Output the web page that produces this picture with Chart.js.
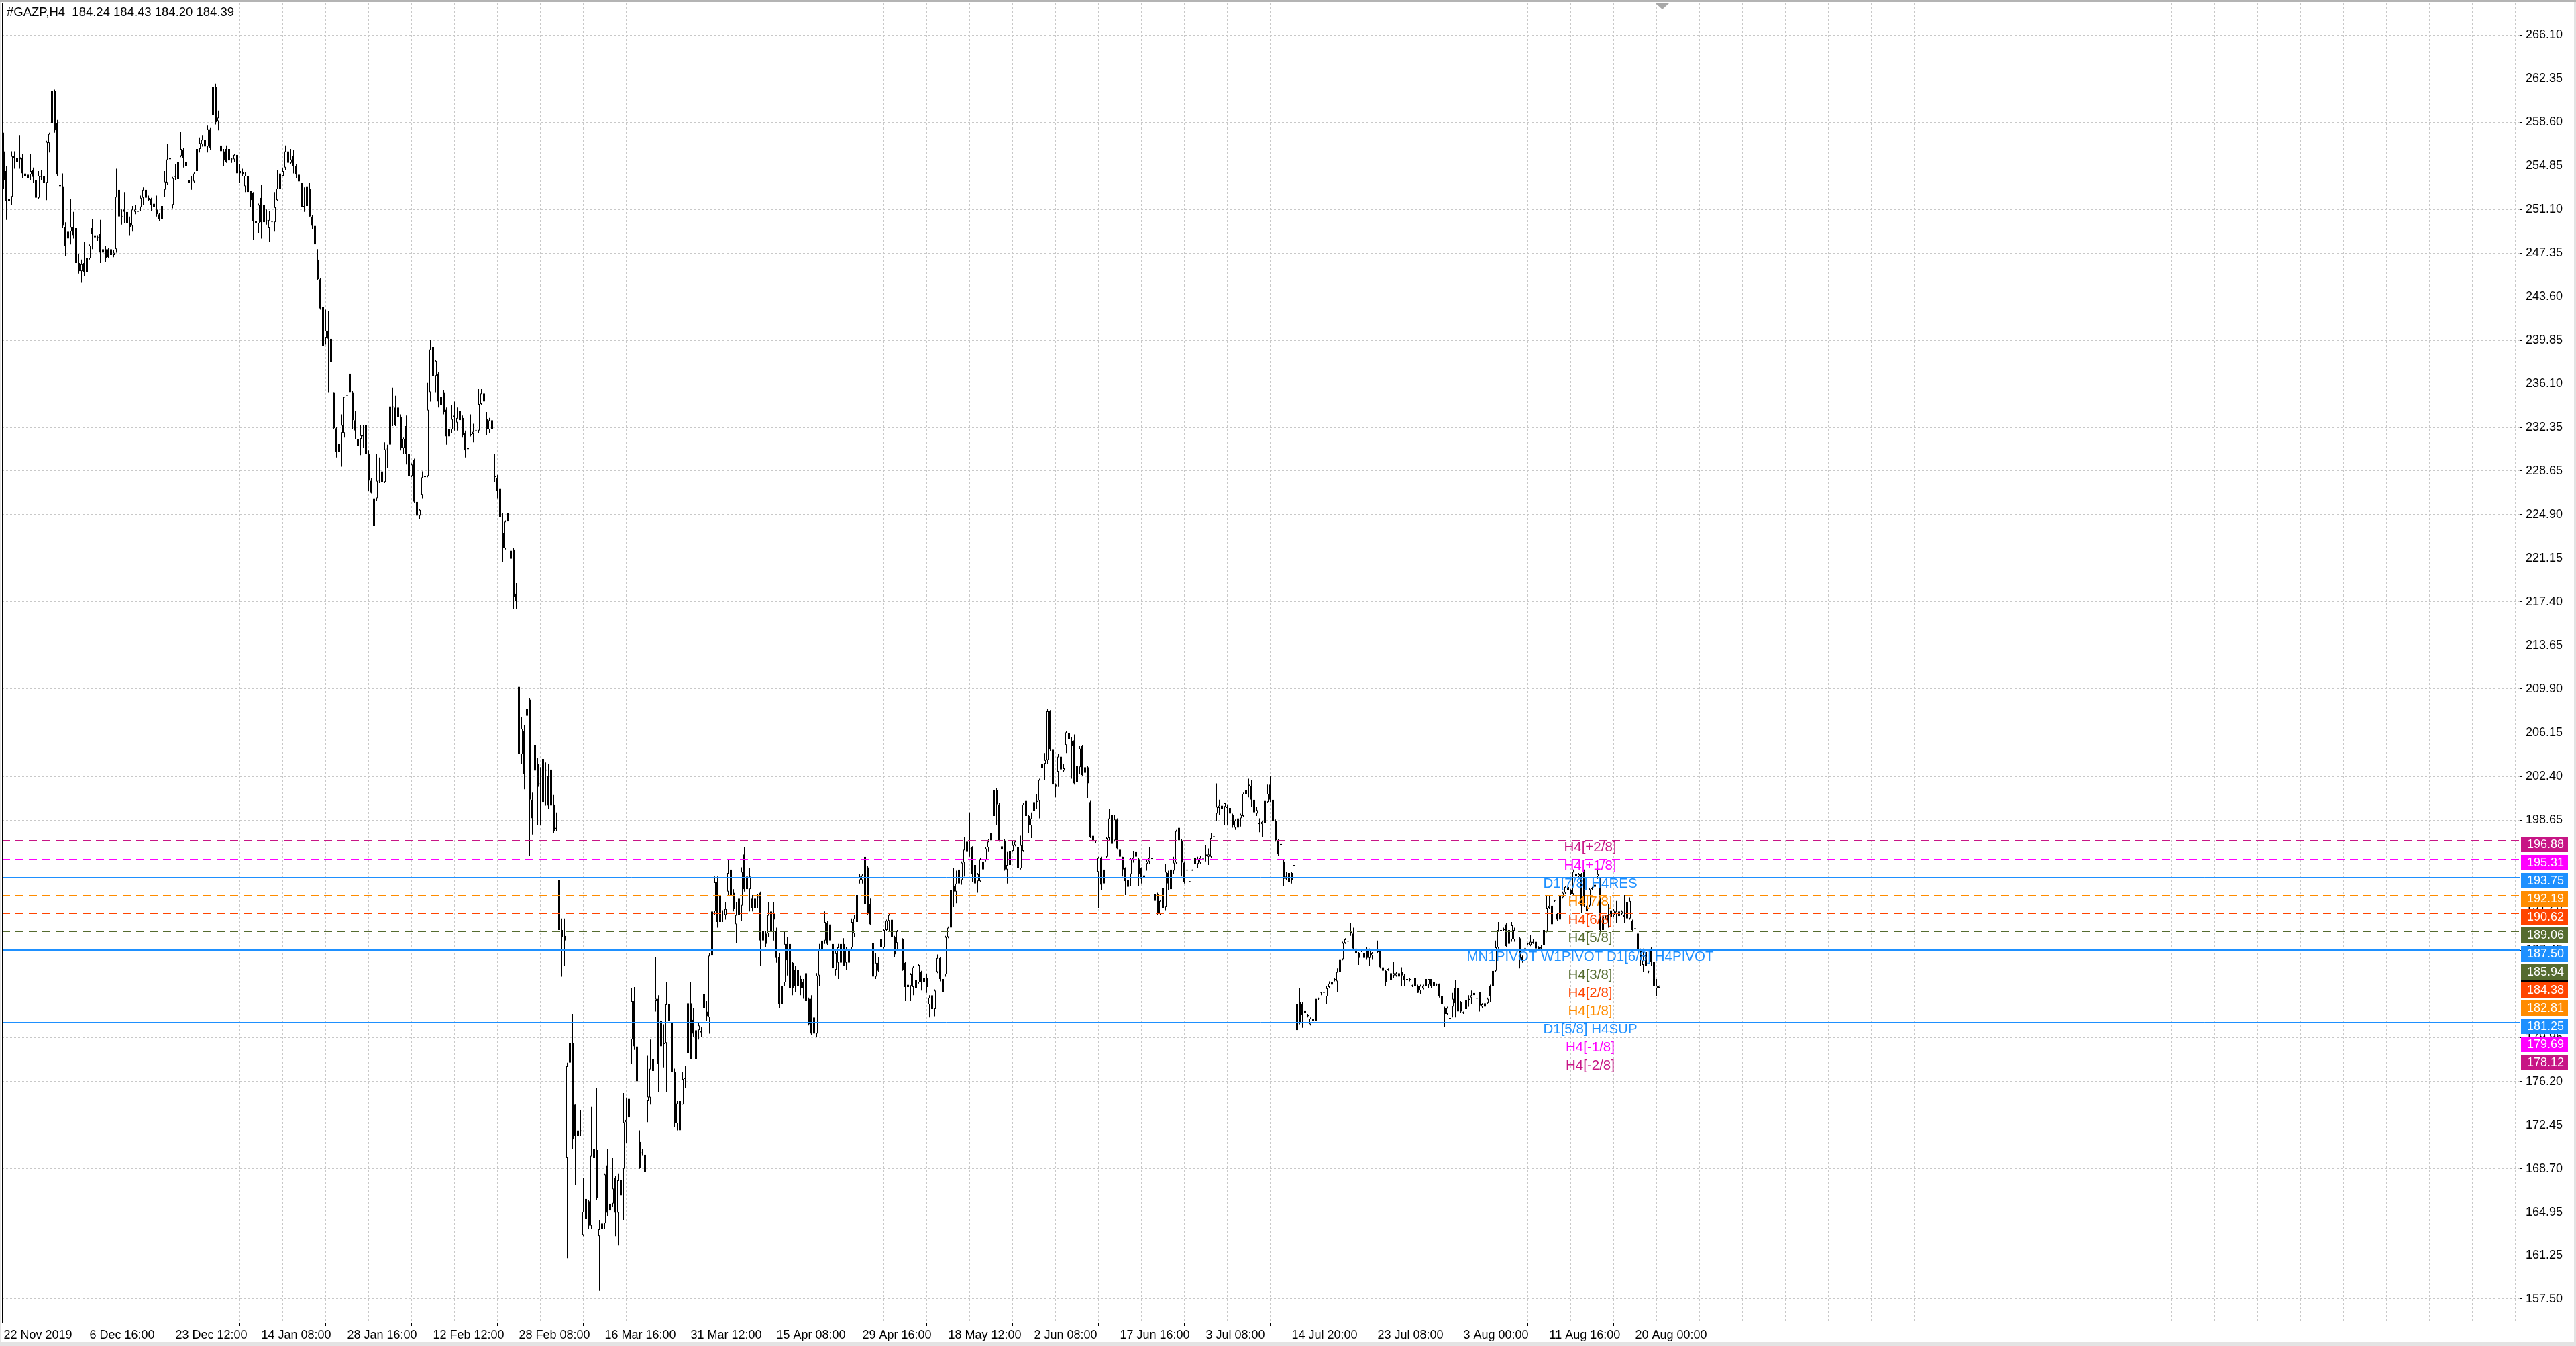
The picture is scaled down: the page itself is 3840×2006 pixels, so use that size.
<!DOCTYPE html>
<html>
<head>
<meta charset="utf-8">
<title>#GAZP,H4</title>
<script src="https://cdn.jsdelivr.net/npm/chart.js@4.4.1/dist/chart.umd.min.js"></script>
<style>
html,body{margin:0;padding:0;background:#ffffff;overflow:hidden}
canvas{display:block}
</style>
</head>
<body>
<canvas id="c" width="3840" height="2006" style="width:3840px;height:2006px"></canvas>
<script>
// ---------------- DATA ----------------
const symbolTitle = '#GAZP,H4  184.24 184.43 184.20 184.39';

const xTickLabels = ['22 Nov 2019','6 Dec 16:00','23 Dec 12:00','14 Jan 08:00','28 Jan 16:00','12 Feb 12:00',
  '28 Feb 08:00','16 Mar 16:00','31 Mar 12:00','15 Apr 08:00','29 Apr 16:00','18 May 12:00','2 Jun 08:00',
  '17 Jun 16:00','3 Jul 08:00','14 Jul 20:00','23 Jul 08:00','3 Aug 00:00','11 Aug 16:00','20 Aug 00:00'];

const yTickValues = [266.10,262.35,258.60,254.85,251.10,247.35,243.60,239.85,236.10,232.35,228.65,224.90,
  221.15,217.40,213.65,209.90,206.15,202.40,198.65,194.90,191.20,187.45,183.70,179.95,176.20,172.45,168.70,
  164.95,161.25,157.50];

const opens = [
256.1,254.4,251.8,252.2,255.7,255.5,255.6,255.5,254.2,253.8,
254.1,254.5,253.6,252.1,253.9,254.0,253.4,256.8,258.5,261.3,
258.5,253.2,253.1,249.6,248.6,249.2,249.6,249.5,246.5,245.8,
246.5,245.7,246.9,249.5,248.9,248.7,249.0,247.4,247.7,247.7,
247.7,247.2,247.7,252.8,250.5,251.1,250.9,249.9,249.7,250.9,
251.0,251.3,252.1,252.1,252.1,252.0,251.6,251.1,250.7,250.3,
252.8,253.4,255.4,251.5,253.9,253.7,255.7,256.2,255.2,253.4,
253.6,253.5,254.4,256.3,256.7,257.1,256.5,258.0,259.2,261.6,
258.7,256.6,256.1,256.3,256.3,255.4,255.4,255.8,254.4,254.3,
253.1,254.0,252.7,252.5,250.1,249.9,252.1,251.5,250.1,249.5,
250.0,250.0,251.9,252.9,254.0,254.7,256.1,255.1,255.7,254.8,
254.1,253.4,251.3,251.4,252.9,250.5,249.7,246.8,245.1,242.7,
240.1,240.7,240.0,235.4,232.3,230.3,231.9,231.9,235.1,237.0,
235.4,233.0,230.8,231.4,231.6,232.6,230.1,227.8,223.9,226.3,
227.8,228.6,227.7,230.5,230.9,234.2,234.1,234.1,233.3,230.6,
232.5,230.1,228.2,229.6,226.0,224.8,226.6,228.1,228.2,235.4,
239.3,236.8,237.0,235.0,235.4,233.9,231.6,232.2,233.3,232.8,
233.8,233.2,231.9,230.5,231.7,231.8,232.1,232.1,234.4,235.3,
233.1,232.2,233.0,228.2,228.0,227.1,223.3,222.0,224.3,221.1,
221.9,218.1,210.1,204.3,206.3,207.6,209.0,200.4,205.1,203.5,
201.8,203.9,203.0,202.4,203.0,200.0,197.9,193.5,189.2,188.7,
169.6,177.8,179.5,174.2,171.5,171.9,163.0,164.4,165.9,163.8,
169.6,170.3,162.9,163.5,164.0,169.0,165.1,165.7,167.9,164.9,
167.7,168.7,172.7,173.1,179.8,183.1,179.2,171.0,170.1,169.9,
174.5,174.8,177.1,183.1,183.3,181.4,179.5,179.5,182.8,181.2,
177.0,172.6,172.0,174.2,176.4,178.6,182.9,181.5,178.1,180.6,
180.5,183.7,182.2,181.7,187.0,190.8,193.3,192.2,190.3,190.5,
192.5,194.4,192.4,189.7,190.5,191.3,195.7,193.8,192.7,191.9,
191.1,192.0,192.4,188.3,188.9,188.9,189.1,190.7,189.1,186.9,
182.8,184.7,188.0,188.0,186.4,185.8,184.4,185.0,184.7,183.1,
183.3,183.3,181.7,180.3,185.3,187.5,188.3,189.8,188.3,188.0,
185.8,186.4,188.0,188.0,186.4,186.4,187.7,188.9,189.9,193.5,
193.5,195.5,194.6,191.4,188.1,185.2,186.4,187.7,187.7,189.2,
190.0,190.1,188.6,188.1,188.4,188.4,186.4,184.3,184.4,184.3,
184.9,184.7,185.6,184.7,185.1,182.8,183.6,182.4,185.6,186.8,
185.0,185.4,188.6,189.4,193.0,192.5,193.2,193.5,195.0,195.9,
196.2,196.3,194.8,193.4,193.4,195.1,195.2,196.3,196.9,199.0,
201.2,200.0,196.4,196.9,194.4,194.8,196.0,196.5,196.3,194.5,
196.0,199.0,199.0,198.2,199.4,200.2,200.3,203.1,203.5,203.8,
208.0,204.7,201.7,202.8,204.1,202.9,205.1,206.1,205.4,205.5,
201.9,203.2,205.0,202.7,203.2,200.2,197.3,196.8,194.2,195.4,
193.2,195.5,197.1,199.1,196.9,198.7,196.1,195.5,194.5,192.9,
194.0,195.2,195.5,195.3,194.5,193.9,194.9,195.1,195.3,192.3,
192.3,190.6,191.1,191.2,194.1,192.7,194.3,195.0,198.0,196.9,
195.0,194.4,193.4,194.4,194.9,194.9,195.0,195.3,195.6,195.5,
195.5,197.2,199.2,199.7,199.6,199.8,199.8,199.7,199.1,198.0,
198.0,198.8,199.0,200.9,201.7,201.6,200.4,199.2,198.3,198.3,
198.4,200.2,201.7,200.4,198.6,196.9,196.6,195.1,193.6,193.3,
194.1,194.8,180.6,183.0,182.8,182.1,181.9,181.1,181.4,181.4,
183.3,183.8,183.8,183.5,184.3,184.5,184.9,184.8,185.6,186.7,
188.1,188.2,189.1,188.9,187.6,187.2,187.4,187.2,187.6,186.8,
187.0,187.5,187.5,187.4,186.0,185.7,185.8,184.9,185.3,185.3,
185.2,185.6,185.3,185.0,184.9,184.4,185.1,184.4,184.0,184.2,
185.0,184.5,185.0,184.4,184.5,184.6,183.5,182.5,182.0,181.6,
182.6,184.2,182.2,183.0,182.1,182.4,183.2,183.4,183.6,183.3,
183.9,182.6,182.6,182.9,184.4,184.4,185.7,187.7,189.1,189.2,
189.7,189.2,188.4,188.4,188.4,188.5,186.9,187.6,188.0,187.9,
188.1,188.2,187.7,187.6,187.9,189.1,191.1,191.3,191.7,190.6,
190.1,192.0,192.4,192.6,192.6,192.3,193.8,193.8,194.0,194.3,
190.8,191.3,192.7,192.9,193.8,193.6,189.2,190.3,190.5,190.3,
190.5,190.6,190.8,190.6,190.5,191.6,190.2,190.0,189.3,188.9,
187.5,186.2,186.1,185.6,187.6,186.5,184.2,184.24];

const highs = [
257.7,254.8,253.2,256.1,256.1,255.8,257.5,255.9,254.5,254.4,
255.9,254.7,254.0,254.4,254.5,255.0,257.0,257.7,263.4,261.4,
258.8,254.0,254.2,250.0,249.9,252.0,250.9,249.7,247.3,246.8,
248.3,248.0,248.1,250.3,249.3,248.9,250.2,247.8,248.0,247.8,
247.8,247.6,254.6,254.7,251.1,252.6,251.3,250.5,251.4,251.5,
251.8,252.3,253.0,252.9,252.3,252.1,251.8,252.3,250.8,251.5,
254.4,256.7,256.7,253.9,255.0,255.4,257.8,256.4,255.5,253.9,
254.0,254.3,256.5,257.3,257.5,257.5,258.3,258.1,262.0,261.9,
259.6,257.7,256.3,256.6,257.4,255.5,255.9,256.8,255.0,254.6,
254.3,254.1,252.7,252.6,250.5,251.6,253.2,251.7,251.1,251.0,
250.1,252.6,254.5,254.5,254.7,256.6,256.7,256.3,256.2,255.0,
254.2,253.4,253.0,253.1,253.4,250.6,249.8,247.7,245.2,243.3,
242.5,242.4,240.1,235.4,232.4,231.5,233.5,235.0,237.5,237.4,
235.5,233.8,231.8,232.6,232.6,233.8,230.4,228.0,226.4,230.1,
229.8,229.0,231.1,230.9,234.3,235.8,235.1,236.0,233.5,231.5,
233.4,230.3,229.3,229.7,226.1,225.4,228.6,229.8,236.2,239.9,
239.6,238.2,237.1,236.0,235.6,234.1,232.8,234.3,234.6,234.1,
234.3,233.4,232.1,230.9,233.5,232.7,233.0,235.7,235.7,235.6,
233.7,233.2,233.1,230.1,228.3,227.2,225.0,224.4,225.5,223.3,
222.0,219.0,212.0,207.5,206.8,212.0,209.1,201.0,205.2,204.0,
203.2,204.6,203.6,203.5,203.2,200.8,199.3,194.3,190.2,190.2,
177.8,185.8,182.0,174.2,172.6,173.7,167.9,169.3,166.0,174.0,
171.5,175.6,164.3,164.6,168.3,170.4,167.1,169.6,168.1,168.3,
170.4,175.2,174.8,174.9,184.2,184.3,179.5,172.0,170.4,170.1,
178.4,179.8,179.9,186.9,183.6,181.4,181.1,184.7,184.7,181.4,
177.3,174.5,174.8,177.0,177.5,183.1,184.7,182.5,181.1,181.3,
180.9,185.3,183.1,187.2,191.0,193.8,193.8,192.4,190.9,191.6,
195.2,194.8,192.7,191.6,192.2,194.6,196.3,194.2,194.5,192.2,
192.2,192.3,192.5,189.4,189.1,191.6,191.3,191.6,189.4,187.2,
185.8,189.1,188.6,188.3,186.5,186.1,186.1,185.3,185.0,185.8,
183.4,183.6,182.0,185.5,188.0,188.9,190.8,190.0,191.6,188.3,
187.5,188.0,188.3,188.5,187.7,187.7,190.2,190.5,192.4,194.0,
194.0,196.3,194.7,191.9,188.2,187.2,186.9,189.1,189.3,190.1,
190.7,191.2,188.7,189.2,188.5,188.5,186.5,184.8,185.5,186.1,
185.0,186.3,185.7,185.2,185.4,183.6,184.1,184.1,187.1,186.9,
185.1,188.7,189.5,192.7,194.5,194.3,194.5,195.1,197.2,197.3,
199.3,196.4,194.9,194.1,195.4,195.2,196.3,197.0,197.6,202.4,
201.4,200.1,196.9,197.0,195.9,196.9,196.9,196.9,196.4,197.3,
200.1,202.4,199.1,199.3,200.8,200.9,202.2,204.7,204.4,208.2,
208.1,204.8,201.8,204.3,204.2,203.5,206.3,206.6,205.8,206.0,
203.4,205.0,205.1,204.2,203.3,200.3,198.0,196.9,195.5,195.5,
194.5,197.2,199.6,199.2,199.1,198.8,196.2,195.5,194.6,193.8,
195.4,196.0,196.1,195.4,194.6,194.0,195.2,196.3,196.1,192.5,
192.4,191.8,192.9,194.9,194.3,194.8,195.5,197.8,198.6,197.0,
195.1,194.4,193.4,194.4,195.8,195.5,195.6,195.4,196.5,196.2,
197.5,197.4,201.8,200.4,200.0,200.1,200.0,199.8,199.2,198.7,
198.9,199.2,201.0,201.7,202.2,202.1,200.5,199.8,198.8,198.6,
200.4,201.7,202.4,200.5,198.7,197.0,196.6,195.2,194.2,194.9,
194.2,194.8,184.4,184.2,183.0,182.5,182.0,181.7,181.8,183.4,
183.4,183.9,184.1,184.4,184.8,185.0,185.1,185.9,186.8,188.2,
188.5,188.3,189.8,189.4,187.7,187.3,187.5,188.6,187.7,187.6,
187.3,187.6,188.3,187.5,186.1,185.8,185.9,186.0,186.5,185.6,
185.6,186.0,185.4,185.0,185.1,184.5,185.2,184.5,184.5,184.5,
185.0,185.0,185.0,184.8,184.6,184.6,183.6,182.6,182.6,181.7,
183.8,184.9,184.8,183.1,182.2,183.4,183.6,184.0,183.9,183.4,
183.9,182.9,183.0,183.4,184.5,185.9,188.3,189.9,190.0,189.4,
189.8,189.9,189.9,189.4,188.5,188.6,187.0,187.7,188.1,188.8,
188.4,188.3,187.8,187.9,189.4,192.2,192.2,191.4,191.8,190.7,
192.2,192.5,193.0,193.1,192.7,194.4,194.5,194.1,194.1,194.4,
191.5,192.8,192.9,193.3,194.5,193.7,190.5,190.5,191.4,191.3,
191.0,191.7,190.9,190.9,192.2,191.8,192.0,190.1,189.4,189.0,
187.6,187.6,187.7,185.7,187.7,187.6,185.0,184.43];

const lows = [
252.9,250.2,250.9,251.5,254.6,254.6,254.6,253.8,252.1,252.4,
253.6,253.4,251.3,252.0,253.6,253.1,251.9,256.0,258.1,257.7,
254.0,250.6,249.5,247.1,246.4,248.1,248.6,246.4,245.6,244.8,
245.4,245.6,246.8,247.7,248.0,248.4,246.5,246.8,246.6,246.9,
247.0,247.0,247.4,249.3,249.8,249.9,248.9,248.9,249.2,250.7,
250.7,251.0,251.5,251.9,251.8,251.0,251.0,250.5,250.1,249.4,
252.2,253.2,255.2,251.2,253.6,253.6,255.6,254.7,254.7,252.5,
252.8,253.4,254.3,256.0,256.5,254.8,256.0,256.2,258.5,258.4,
257.9,256.1,254.8,255.1,254.8,255.1,255.2,251.9,253.4,254.0,
252.6,251.9,251.3,248.5,248.6,249.1,248.6,249.7,249.8,248.3,
249.9,249.2,251.8,252.6,254.0,254.5,254.1,255.0,254.2,253.8,
253.1,251.3,250.9,251.3,250.5,249.4,248.1,245.0,242.5,239.0,
239.5,235.4,237.4,232.2,229.8,229.0,229.0,231.5,233.5,231.7,
232.2,231.4,229.5,230.0,230.6,229.4,226.9,226.7,223.8,226.1,
227.6,226.8,227.6,228.9,228.9,232.5,232.5,232.9,230.4,230.1,
229.2,227.2,228.1,225.9,224.7,224.5,226.3,228.0,228.1,234.6,
236.0,235.4,234.1,233.8,233.5,230.9,231.3,231.9,232.1,232.1,
232.1,231.5,229.8,230.2,231.6,231.1,231.7,231.9,234.3,234.3,
231.7,231.9,232.1,227.7,226.3,224.6,220.8,221.9,223.6,220.8,
216.8,216.8,201.3,203.5,201.3,197.4,195.6,197.4,200.2,198.2,
198.2,198.5,199.9,199.6,199.6,197.5,197.7,188.6,185.2,186.1,
161.0,170.4,170.4,167.3,169.0,171.5,162.9,161.3,163.5,163.5,
169.0,166.0,158.2,161.6,163.5,164.6,164.9,165.4,162.9,162.1,
166.2,164.3,170.9,170.9,177.7,178.9,176.0,168.7,169.8,168.3,
172.7,174.2,177.0,182.2,175.3,177.3,177.4,175.3,181.1,176.4,
172.3,172.0,170.5,174.2,175.6,178.4,178.1,180.0,177.5,179.8,
180.0,182.2,181.4,180.3,185.8,190.5,189.4,189.7,189.9,190.1,
192.2,191.1,190.8,188.1,190.0,190.0,192.5,190.0,190.8,190.8,
190.8,191.1,186.1,188.0,187.7,188.6,188.9,188.3,186.4,182.5,
182.6,184.4,185.3,183.9,183.6,183.9,184.2,183.6,183.3,182.9,
181.0,180.2,179.2,180.0,184.4,186.4,188.0,187.9,188.0,185.8,
185.3,185.0,186.3,186.1,185.8,185.8,187.5,188.6,189.7,193.2,
193.2,190.6,190.5,189.6,184.5,185.0,185.6,187.6,187.6,189.1,
189.1,188.0,186.9,187.5,188.3,185.7,183.1,183.3,183.1,183.6,
183.3,184.6,184.0,184.3,183.8,181.7,181.7,181.8,185.5,184.8,
183.8,185.2,188.5,189.3,191.2,191.5,192.8,193.1,193.8,195.5,
195.5,193.3,191.5,192.4,193.3,194.2,195.1,195.9,196.5,198.6,
198.2,196.8,195.9,194.3,193.2,194.7,195.9,196.4,193.6,194.4,
195.9,198.9,197.5,197.1,199.3,199.6,198.8,202.3,202.1,203.5,
204.6,201.6,200.6,201.5,201.6,202.8,204.4,205.5,202.2,201.7,
201.7,202.6,202.4,202.0,200.5,197.1,195.9,196.7,191.1,192.6,
192.9,195.4,196.9,196.5,196.8,196.1,195.3,193.8,192.2,191.8,
193.0,195.0,195.1,193.0,193.2,192.6,194.3,194.9,194.3,191.0,
190.5,190.5,191.0,190.9,192.6,192.6,194.0,194.9,196.1,193.8,
193.2,194.3,193.3,194.3,194.6,194.5,194.9,195.1,195.1,194.8,
195.4,197.0,198.6,199.1,199.1,198.2,198.2,198.6,198.0,197.8,
197.5,198.1,198.9,200.8,200.6,199.8,198.4,199.0,197.6,197.2,
198.3,200.1,200.2,198.5,196.8,195.6,196.5,193.0,193.5,192.5,
193.2,194.7,179.8,181.1,180.8,182.0,181.7,181.0,181.3,181.3,
183.2,183.6,183.5,182.8,184.2,184.4,184.8,183.9,185.5,186.6,
188.0,188.1,188.7,187.5,186.3,186.2,187.3,186.6,186.7,186.1,
186.7,187.4,187.2,185.9,185.6,184.4,185.7,184.2,185.1,185.2,
184.4,184.4,184.4,184.8,184.8,184.3,184.2,183.8,183.7,184.1,
183.4,184.2,184.2,184.2,184.4,183.4,182.6,180.9,181.9,181.5,
181.7,181.7,181.7,182.1,182.0,181.8,182.6,182.8,183.4,183.2,
182.2,182.5,182.5,182.8,183.0,184.3,185.6,187.6,189.0,189.1,
187.7,187.8,188.2,188.2,188.3,185.9,186.4,187.5,187.9,187.8,
188.0,187.5,187.4,187.4,187.8,189.0,191.0,189.6,191.6,190.0,
190.0,191.9,192.3,192.5,192.2,192.2,193.7,193.7,190.7,191.2,
190.7,191.2,192.6,192.8,193.6,189.1,189.1,190.2,189.4,190.2,
190.3,189.8,190.3,190.5,189.8,190.1,190.1,189.1,189.2,187.4,
186.1,185.6,186.0,185.5,186.1,183.5,183.5,184.20];

const closes = [
253.6,251.8,252.0,255.7,255.5,255.2,255.4,254.2,254.0,254.1,
254.4,253.9,252.1,254.0,254.0,253.4,256.9,257.6,261.3,257.9,
254.1,253.1,249.7,248.0,249.2,249.6,248.9,246.5,245.8,246.4,
245.7,246.9,248.0,249.0,248.7,248.7,247.4,247.7,246.9,247.0,
247.2,247.4,252.2,250.5,250.5,250.9,249.9,249.6,251.1,251.1,
250.9,252.1,252.8,252.8,251.9,251.5,251.3,250.7,250.3,251.4,
253.5,255.4,255.5,253.8,253.9,255.2,256.3,255.5,254.8,253.6,
253.6,254.2,256.3,256.8,257.1,256.5,258.0,256.4,261.6,258.6,
259.0,256.1,255.3,255.2,255.3,255.4,255.8,254.2,254.2,254.1,
254.0,252.6,251.9,250.1,249.9,251.5,250.0,250.0,250.1,250.2,
250.0,251.3,252.9,254.2,254.4,256.1,255.1,255.4,254.8,254.1,
253.5,251.3,251.4,253.1,250.5,249.7,248.1,245.1,242.6,239.4,
240.7,240.0,238.0,232.3,230.3,231.0,232.6,235.0,235.1,235.4,
233.0,232.1,231.4,231.7,231.7,230.1,227.8,226.8,226.3,227.8,
227.8,227.7,230.5,230.5,234.2,234.1,232.6,233.3,230.6,231.4,
230.1,228.2,229.2,226.0,224.8,225.3,228.1,228.2,233.9,239.1,
236.8,238.1,234.6,234.3,233.7,231.6,232.2,233.1,233.4,233.2,
233.0,231.7,230.4,230.6,231.8,232.0,232.1,234.4,235.3,234.6,
232.2,233.0,232.2,228.1,226.9,224.7,222.0,224.3,225.0,221.8,
217.8,217.5,204.3,206.5,202.6,208.2,200.4,198.8,202.9,201.5,
201.7,200.2,202.9,199.9,199.9,197.7,198.0,189.2,188.6,188.3,
177.5,179.5,171.2,171.5,172.0,172.0,165.0,166.1,163.8,169.8,
170.4,166.2,163.5,164.0,168.2,164.9,165.7,167.0,164.9,167.7,
166.4,172.7,172.9,174.7,183.1,179.2,176.2,168.8,170.0,168.4,
174.9,177.3,178.1,183.3,177.7,179.2,179.4,182.8,181.4,177.0,
172.6,174.3,174.5,176.4,176.5,182.9,178.1,180.3,180.6,181.0,
180.4,182.5,181.8,187.0,190.8,193.3,189.9,189.9,190.3,191.0,
194.1,192.2,191.0,190.5,191.9,194.2,192.7,192.7,193.8,191.1,
191.9,192.0,188.3,189.1,188.0,190.5,190.8,190.1,186.8,182.8,
184.4,188.0,186.6,184.2,184.2,184.4,185.8,184.2,184.2,185.5,
181.1,180.3,180.3,185.3,187.5,188.3,189.9,188.0,189.7,185.9,
187.2,187.7,186.4,186.1,187.5,187.5,189.9,190.2,192.2,193.8,
193.9,191.4,190.6,189.7,185.2,186.4,185.7,188.4,189.2,190.0,
190.5,188.6,187.1,189.1,188.4,185.8,184.3,184.5,185.4,186.0,
184.2,186.2,184.7,185.1,184.3,183.4,182.4,184.0,186.8,185.0,
183.9,188.6,189.4,192.6,192.5,193.2,194.4,195.0,196.1,196.8,
196.1,194.0,193.2,194.0,195.3,194.4,196.2,196.8,197.5,201.2,
200.0,196.9,196.1,194.4,194.8,196.0,196.5,196.8,194.5,196.5,
200.0,200.3,198.2,198.8,200.2,200.3,202.1,203.5,203.8,208.0,
204.7,201.7,201.5,204.1,203.0,203.1,206.2,205.6,205.0,201.8,
203.3,204.8,202.5,203.2,201.8,197.2,196.8,196.8,195.4,193.1,
194.4,197.1,198.8,196.6,198.7,196.2,195.5,194.4,193.4,193.5,
195.3,195.4,195.9,194.0,193.6,193.7,195.1,195.4,195.4,191.7,
190.6,191.7,192.8,194.2,193.2,194.4,195.0,197.7,196.9,195.0,
193.3,194.3,193.3,194.3,195.4,195.3,195.4,195.3,195.7,195.7,
197.1,197.2,199.8,199.9,199.9,200.1,199.7,199.2,198.2,198.6,
198.8,199.1,200.9,201.2,201.6,200.4,199.3,199.5,198.4,198.5,
200.3,200.9,200.4,198.6,196.9,195.7,196.5,193.6,193.8,194.1,
193.5,194.7,182.8,181.3,181.9,182.3,181.8,181.6,181.6,183.3,
183.3,183.8,183.8,184.2,184.6,184.7,185.0,185.6,186.7,188.1,
188.4,188.2,188.9,187.6,187.2,186.8,187.4,186.8,186.8,187.5,
187.2,187.5,187.3,186.0,185.7,184.7,185.8,185.5,185.5,185.5,
185.5,185.3,184.9,184.9,185.0,184.4,184.4,183.8,184.4,184.4,
184.4,185.0,184.4,184.7,184.5,183.5,182.8,182.0,182.5,181.6,
183.3,182.9,184.2,182.2,182.1,183.2,183.3,183.6,183.8,183.3,
182.7,182.8,182.9,183.3,183.5,185.7,187.7,189.2,189.2,189.2,
187.8,188.0,189.6,189.2,188.4,186.6,186.6,187.6,188.0,188.2,
188.2,187.6,187.5,187.7,189.2,191.1,191.3,189.7,191.7,190.1,
192.1,192.4,192.9,192.9,192.3,194.2,194.0,194.0,191.3,191.3,
191.3,192.7,192.8,193.1,194.0,189.2,190.4,190.4,189.9,190.9,
190.9,190.8,190.4,190.8,190.3,190.2,191.7,189.2,189.3,187.5,
186.6,186.6,187.3,185.6,186.5,184.4,184.4,184.39];

const levelValues = [196.88,195.31,193.75,192.19,190.62,189.06,187.50,185.94,184.38,182.81,181.25,179.69,178.12];
const levelNames = ['H4[+2/8]','H4[+1/8]','D1[7/8] H4RES','H4[7/8]','H4[6/8]','H4[5/8]',
  'MN1PIVOT W1PIVOT D1[6/8] H4PIVOT','H4[3/8]','H4[2/8]','H4[1/8]','D1[5/8] H4SUP','H4[-1/8]','H4[-2/8]'];
const levelColors = ['#C71585','#FF00FF','#1E90FF','#FF8C00','#FF4500','#556B2F','#1E90FF','#556B2F',
  '#FF4500','#FF8C00','#1E90FF','#FF00FF','#C71585'];
const levelDashed = [true,true,false,true,true,true,false,true,true,true,false,true,true];
const levelWidths = [1,1,1,1,1,1,2,1,1,1,1,1,1];
const bidPrice = 184.39;

// ---------------- LAYOUT / STYLE ----------------
const FONT = '"Liberation Sans", Arial, sans-serif';
const X_MIN = -0.625, X_MAX = 937.625;
const Y_MIN = 155.424, Y_MAX = 268.867;
const LABEL_ANCHOR_BAR = 591.25;
const GRID_STEP_BARS = 16, LABEL_STEP_BARS = 32;

const n = Math.min(opens.length, highs.length, lows.length, closes.length);
const bodies = [], wicks = [];
for (let i = 0; i < n; i++) {
  bodies.push({x: i, y: [opens[i], closes[i]]});
  wicks.push({x: i, y: [lows[i], highs[i]]});
}
const isBull = i => closes[i] >= opens[i];

const levelDatasets = levelValues.map((v, i) => ({
  type: 'line',
  label: levelNames[i],
  snapY: v,
  data: [{x: X_MIN, y: v}, {x: X_MAX, y: v}],
  borderColor: levelColors[i],
  borderWidth: levelWidths[i],
  borderDash: levelDashed[i] ? [12, 8] : [],
  borderCapStyle: 'butt',
  pointRadius: 0, pointHoverRadius: 0, fill: false, tension: 0,
  order: 0
}));

const noPad = s => { s.paddingTop = 0; s.paddingBottom = 0; s.paddingLeft = 0; s.paddingRight = 0; };

const decor = {
  id: 'decor',
  beforeDraw(chart) {
    const ctx = chart.ctx;
    ctx.save();
    ctx.fillStyle = '#ffffff';
    ctx.fillRect(0, 0, chart.width, chart.height);
    ctx.fillStyle = '#B4B4B4';
    ctx.fillRect(0, 0, chart.width, 3);
    ctx.fillStyle = '#E3E3E3';
    ctx.fillRect(0, 3, 2, chart.height - 3);
    ctx.fillRect(chart.width - 3, 3, 3, chart.height - 3);
    ctx.fillRect(0, chart.height - 6, chart.width, 6);
    ctx.restore();
  },
  // keep 1px horizontal level lines on whole pixels (crisp, like the terminal draws them)
  beforeDatasetDraw(chart, args) {
    const ds = chart.data.datasets[args.index];
    if (ds.snapY === undefined) return;
    const py = chart.scales.y.getPixelForValue(ds.snapY);
    const target = (ds.borderWidth % 2 === 1) ? Math.floor(py) + 0.5 : Math.round(py);
    chart.ctx.save();
    chart.ctx.translate(0, target - py);
  },
  afterDatasetDraw(chart, args) {
    const ds = chart.data.datasets[args.index];
    if (ds.snapY === undefined) return;
    chart.ctx.restore();
  },
  afterDatasetsDraw(chart) {
    const {ctx, scales: {x, y}, chartArea: a} = chart;
    ctx.save();
    ctx.beginPath();
    ctx.rect(a.left, a.top, a.right - a.left, a.bottom - a.top);
    ctx.clip();
    ctx.font = '20.5px ' + FONT;
    ctx.textAlign = 'center';
    ctx.textBaseline = 'top';
    const cx = x.getPixelForValue(LABEL_ANCHOR_BAR);
    levelValues.forEach((v, i) => {
      ctx.fillStyle = levelColors[i];
      ctx.fillText(levelNames[i], cx, Math.round(y.getPixelForValue(v)));
    });
    ctx.restore();
  },
  afterDraw(chart) {
    const {ctx, chartArea: a, scales: {x, y}} = chart;
    ctx.save();
    // chart frame
    ctx.strokeStyle = '#000000';
    ctx.lineWidth = 1;
    ctx.strokeRect(a.left + 0.5, a.top + 0.5, a.right - a.left, a.bottom - a.top - 1);
    // symbol title
    ctx.fillStyle = '#000000';
    ctx.font = '18.5px ' + FONT;
    ctx.textAlign = 'left';
    ctx.textBaseline = 'top';
    ctx.fillText(symbolTitle, 10, 10);
    // chart shift marker
    const sx = Math.round(x.getPixelForValue(n));
    ctx.fillStyle = '#A8A8A8';
    ctx.beginPath();
    ctx.moveTo(sx - 10, 5); ctx.lineTo(sx + 10, 5); ctx.lineTo(sx, 14); ctx.closePath();
    ctx.fill();
    // price labels on the right axis
    const bx = a.right + 2, bw = 70, bh = 23;
    ctx.font = '18px ' + FONT;
    ctx.textBaseline = 'middle';
    const bidY = Math.round(y.getPixelForValue(bidPrice));
    ctx.fillStyle = '#000000';
    ctx.fillRect(bx, bidY - 10, bw, bh);
    ctx.fillStyle = '#ffffff';
    ctx.fillText(bidPrice.toFixed(2), bx + 9, bidY - 10 + 12);
    levelValues.forEach((v, i) => {
      const py = Math.round(y.getPixelForValue(v));
      ctx.fillStyle = levelColors[i];
      ctx.fillRect(bx, py - 6, bw, bh);
      ctx.fillStyle = '#ffffff';
      ctx.fillText(v.toFixed(2), bx + 9, py - 6 + 12.5);
    });
    ctx.restore();
  }
};

new Chart(document.getElementById('c'), {
  type: 'bar',
  data: {
    datasets: [
      ...levelDatasets,
      {
        type: 'bar', label: 'body', data: bodies, order: 1, grouped: false,
        barThickness: 3, borderWidth: 1, borderColor: '#000000', borderSkipped: false,
        backgroundColor: c => (c.dataIndex !== undefined && isBull(c.dataIndex)) ? '#ffffff' : '#000000',
        minBarLength: 1, inflateAmount: 0
      },
      {
        type: 'bar', label: 'wick', data: wicks, order: 2, grouped: false,
        barThickness: 1, borderWidth: 0, backgroundColor: '#000000',
        minBarLength: 1, inflateAmount: 0
      },
      {
        type: 'line', label: 'bid', snapY: bidPrice, data: [{x: X_MIN, y: bidPrice}, {x: X_MAX, y: bidPrice}],
        borderColor: '#C0C0C0', borderWidth: 1, pointRadius: 0, fill: false, order: 3
      }
    ]
  },
  options: {
    responsive: false,
    animation: false,
    devicePixelRatio: 1,
    events: [],
    layout: {padding: {left: 3, top: 4, right: 0, bottom: 0}},
    plugins: {legend: {display: false}, tooltip: {enabled: false}, title: {display: false}},
    scales: {
      x: {
        type: 'linear', min: X_MIN, max: X_MAX, offset: false,
        afterBuildTicks: s => {
          const t = [];
          for (let b = 0; b <= X_MAX; b += GRID_STEP_BARS) t.push({value: b});
          s.ticks = t;
        },
        afterFit: s => { s.height = 34; noPad(s); },
        grid: {
          color: '#C8C8C8', lineWidth: 1, drawTicks: true, tickLength: 4, tickWidth: 1,
          tickBorderDash: [],
          tickColor: c => (c.tick && c.tick.value % LABEL_STEP_BARS === 0 && c.tick.value / LABEL_STEP_BARS < xTickLabels.length) ? '#000000' : 'rgba(0,0,0,0)'
        },
        border: {display: false, dash: [3, 3]},
        ticks: {
          autoSkip: false, maxRotation: 0, minRotation: 0, align: 'start', padding: 3,
          color: '#000000', font: {family: FONT, size: 18},
          callback: v => (v % LABEL_STEP_BARS === 0 && xTickLabels[v / LABEL_STEP_BARS]) ? xTickLabels[v / LABEL_STEP_BARS] : ''
        }
      },
      y: {
        type: 'linear', position: 'right', min: Y_MIN, max: Y_MAX,
        afterBuildTicks: s => { s.ticks = yTickValues.map(v => ({value: v})); },
        afterFit: s => { s.width = 84; noPad(s); },
        grid: {color: '#C8C8C8', lineWidth: 1, drawTicks: true, tickLength: 4, tickWidth: 1, tickColor: '#000000', tickBorderDash: []},
        border: {display: false, dash: [3, 3]},
        ticks: {
          autoSkip: false, padding: 5, color: '#000000', font: {family: FONT, size: 18},
          callback: v => Number(v).toFixed(2)
        }
      }
    }
  },
  plugins: [decor]
});
</script>
</body>
</html>
